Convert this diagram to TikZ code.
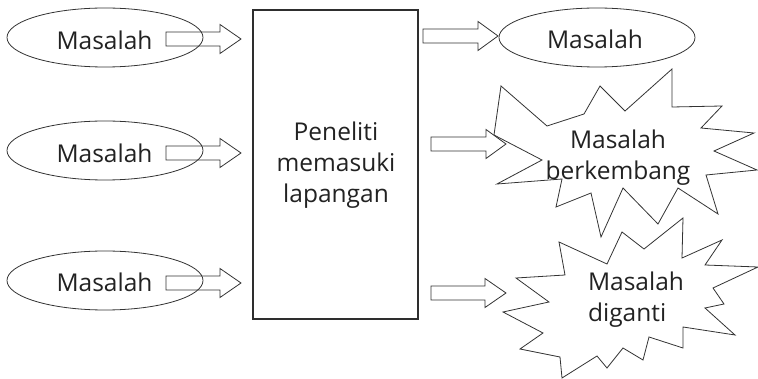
\documentclass[tikz,border=0pt]{standalone}
\usepackage{fontspec}
\setmainfont{Open Sans}
\usetikzlibrary{shapes.geometric}
\definecolor{ink}{HTML}{222222}
\definecolor{edge}{HTML}{333333}
\tikzset{
  txt/.style={font=\fontsize{24.5}{31}\selectfont, text=ink, align=center, inner sep=0pt},
  oval/.style={ellipse, draw=edge, line width=0.8pt, inner sep=0pt, minimum width=196pt, minimum height=59pt, txt},
  box/.style={rectangle, draw=edge!90!black, line width=1.3pt, minimum width=165pt, minimum height=309pt, inner sep=0pt, txt},
  blk/.style={draw=edge, line width=0.8pt, line join=miter},
  burst/.style={draw=edge, line width=0.8pt, line join=miter}
}
\newcommand{\blockarrow}[5]{% name, x0, xbase, xtip, y
  \draw[blk] (#2,#5-7) -- (#3,#5-7) -- (#3,#5-14.5) -- (#4,#5) -- (#3,#5+14.5) -- (#3,#5+7) -- (#2,#5+7) -- cycle;
  \coordinate (#1) at (#4,#5);
}
\begin{document}
\begin{tikzpicture}[x=1pt,y=-1pt]
\useasboundingbox (0,0) rectangle (758,379);
% left ellipses
\node[oval] (m1) at (105,37.5) {};
\node[txt] (t1) at (104.5,40) {Masalah};
\node[oval] (m2) at (105,150.5) {};
\node[txt] (t2) at (104.5,153) {Masalah};
\node[oval] (m3) at (105,280.5) {};
\node[txt] (t3) at (104.5,282) {Masalah};
% researcher box
\node[box] (p) at (335.5,164.5) {};
\node[txt] (pt) at (336,165) {Peneliti\\memasuki\\lapangan};
% right ellipse
\node[oval] (m4) at (597,37.5) {};
\node[txt] (t4) at (595,39) {Masalah};
% starburst 1
\draw[burst] (501,86) -- (547,126) -- (584,114) -- (600,86) -- (625,111) -- (672,69) -- (672,107)
  -- (722,106) -- (701,128) -- (754,133) -- (714,151) -- (757,170) -- (706,175) -- (718,214)
  -- (678,188) -- (658,224) -- (623,188) -- (601,237) -- (591,193) -- (556,207) -- (562,179)
  -- (497,184) -- (542,160) -- (494,135) -- cycle;
\coordinate (sb1) at (620,150);
\node[txt] (s1) at (618,158) {Masalah\\berkembang};
% starburst 2
\draw[burst] (559,242) -- (607,264) -- (622,232) -- (644,249) -- (683,218) -- (682,258) -- (722,240)
  -- (705,265) -- (758,267) -- (713,288) -- (724,304) -- (705,308) -- (735,335) -- (683,327)
  -- (683,348) -- (649,337) -- (643,360) -- (623,348) -- (607,368) -- (597,356) -- (562,378)
  -- (560,357) -- (520,349) -- (543,333) -- (503,312) -- (549,302) -- (516,278) -- (565,275) -- cycle;
\coordinate (sb2) at (630,300);
\node[txt, align=left] (s2) at (636,300) {Masalah\\diganti};
% block arrows
\blockarrow{a1}{166}{220}{241}{39}
\blockarrow{a2}{166}{220}{241}{153}
\blockarrow{a3}{166}{220}{241}{283}
\blockarrow{a4}{423}{478}{498}{36}
\blockarrow{a5}{431}{486}{506}{144}
\blockarrow{a6}{431}{485}{506}{293}
\end{tikzpicture}
\end{document}
